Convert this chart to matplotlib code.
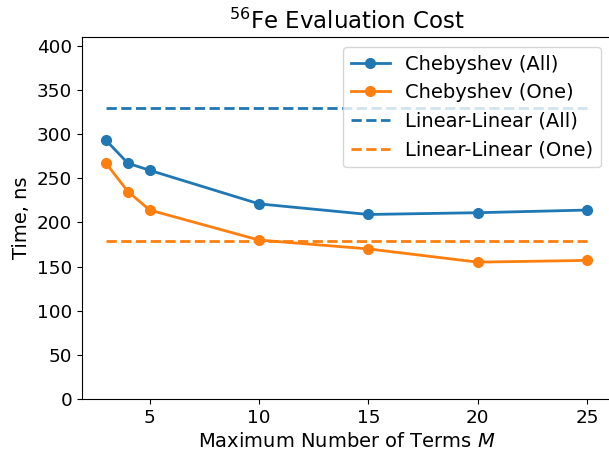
import numpy as np
import matplotlib
matplotlib.use('Agg')
import matplotlib.pyplot as plt

# number of expansion terms
terms = [3, 4, 5, 10, 15, 20, 25]

# evaluation time in ns
cheb_all = [293, 267, 259, 221, 209, 211, 214]
cheb_one = [267, 235, 214, 180, 170, 155, 157]
linlin_all = 330
linlin_one = 179

plt.rcParams['font.size'] = 14
plt.rcParams['xtick.labelsize'] = 13.2
plt.rcParams['ytick.labelsize'] = 13.2

fig = plt.figure(figsize=(6.09, 4.5), dpi=100)
ax = fig.add_axes([82 / 609, 51 / 450, 529 / 609, 362 / 450])

ax.plot(terms, cheb_all, 'o-', color='C0', lw=2, ms=7, label='Chebyshev (All)')
ax.plot(terms, cheb_one, 'o-', color='C1', lw=2, ms=7, label='Chebyshev (One)')
ax.plot([terms[0], terms[-1]], [linlin_all] * 2, '--', color='C0', lw=2,
        label='Linear-Linear (All)')
ax.plot([terms[0], terms[-1]], [linlin_one] * 2, '--', color='C1', lw=2,
        label='Linear-Linear (One)')

ax.set_ylim(0, 410)
ax.set_xticks([5, 10, 15, 20, 25])
ax.set_yticks(np.arange(0, 401, 50))
ax.set_xlabel('Maximum Number of Terms $M$')
ax.set_ylabel('Time, ns')
ax.set_title('$^{56}$Fe Evaluation Cost', fontsize=16.5)
ax.legend(loc='upper right')

fig.savefig('out.png', dpi=100)
